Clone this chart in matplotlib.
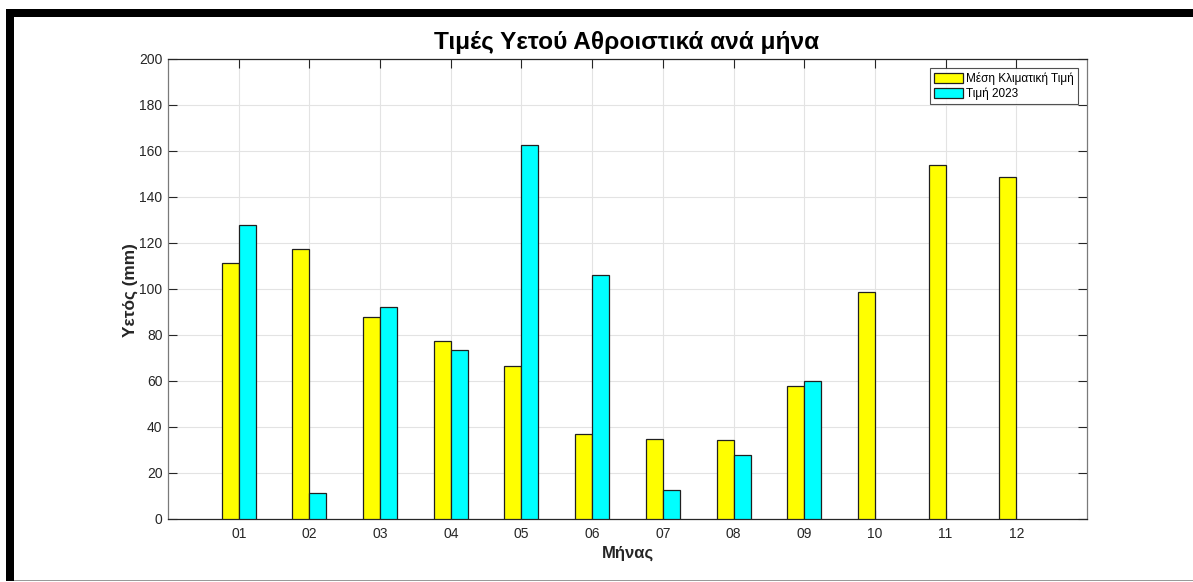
import matplotlib
matplotlib.use("Agg")
import matplotlib.pyplot as plt
from matplotlib.patches import Rectangle
import numpy as np

months = ["01", "02", "03", "04", "05", "06", "07", "08", "09", "10", "11", "12"]
climate_mean = [111.2, 117.4, 88.0, 77.2, 66.4, 36.8, 34.6, 34.3, 57.8, 98.6, 153.9, 148.6]
values_2023 = [127.8, 11.4, 92.3, 73.3, 162.8, 106.1, 12.8, 27.7, 60.1, np.nan, np.nan, np.nan]
yticks = [0, 20, 40, 60, 80, 100, 120, 140, 160, 180, 200]

title = "Τιμές Υετού Αθροιστικά ανά μήνα"
xlabel = "Μήνας"
ylabel = "Υετός (mm)"
legend_labels = ["Μέση Κλιματική Τιμή", "Τιμή 2023"]

plt.rcParams['font.family'] = ['Liberation Sans', 'DejaVu Sans']

W, H = 1193, 582
fig = plt.figure(figsize=(W / 100, H / 100), dpi=100)
fig.patch.set_facecolor("white")

def fx(x):
    return x / W
def fy(y):
    return 1 - y / H

L, R, T, B = 168, 1087, 59, 519
ax = fig.add_axes([fx(L), fy(B), (R - L) / W, (B - T) / H])

x = np.arange(1, len(months) + 1)
bw = 0.24
ax.bar(x - bw / 2, climate_mean, width=bw, color="#ffff00", edgecolor="#202020",
       linewidth=0.9, label=legend_labels[0], zorder=3)
ax.bar(x + bw / 2, values_2023, width=bw, color="#00ffff", edgecolor="#202020",
       linewidth=0.9, label=legend_labels[1], zorder=3)

ax.set_xlim(0, 13)
ax.set_ylim(0, 200)
ax.set_xticks(x)
ax.set_xticklabels(months)
ax.set_yticks(yticks)
ax.tick_params(axis="both", direction="in", length=6.5, width=0.8, labelsize=10,
               colors="#262626", top=True, right=True)
ax.tick_params(axis="y", pad=4)
ax.tick_params(axis="x", pad=6)
ax.grid(True, color="#e3e3e3", linewidth=0.8, zorder=0)
ax.set_axisbelow(True)
for side in ["left", "right"]:
    ax.spines[side].set_color("#7a7a7a")
for side in ["top", "bottom"]:
    ax.spines[side].set_color("#262626")
for sp in ax.spines.values():
    sp.set_linewidth(0.9)

fig.text(fx(627), fy(43), title, ha="center", va="center", fontsize=17.6,
         fontweight="bold", color="black")
fig.text(fx(628), fy(553), xlabel, ha="center", va="center", fontsize=12,
         fontweight="bold", color="#262626")
fig.text(fx(130), fy(290), ylabel, ha="center", va="center", fontsize=12.4,
         fontweight="bold", color="#262626", rotation=90)

leg = ax.legend(loc="upper right", bbox_to_anchor=(fx(1078), fy(68)),
                bbox_transform=fig.transFigure, fontsize=8.5, frameon=True,
                fancybox=False, edgecolor="#262626", handlelength=2.4,
                handleheight=1.0, handletextpad=0.3, borderpad=0.35,
                labelspacing=0.2, borderaxespad=0)
leg.get_frame().set_linewidth(0.8)

# screenshot frame: black top and left borders, grey bottom line
fig.add_artist(Rectangle((fx(6), fy(17)), 1 - fx(6), (17 - 9) / H,
                         transform=fig.transFigure, color="black", lw=0))
fig.add_artist(Rectangle((fx(6), fy(581)), (14 - 6) / W, (581 - 9) / H,
                         transform=fig.transFigure, color="black", lw=0))
fig.add_artist(Rectangle((fx(14), fy(581)), 1 - fx(14), 1.5 / H,
                         transform=fig.transFigure, color="#9a9a9a", lw=0))

fig.savefig("out.png", dpi=100)
